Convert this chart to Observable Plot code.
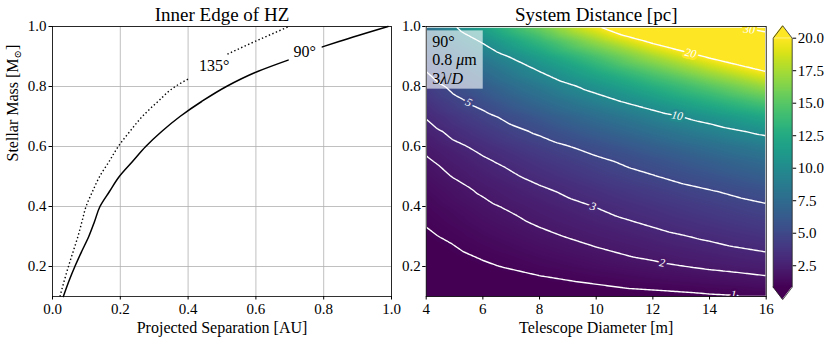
<!DOCTYPE html>
<html><head><meta charset="utf-8">
<script src="https://cdn.jsdelivr.net/npm/d3@7"></script>
<script src="https://cdn.jsdelivr.net/npm/@observablehq/plot@0.6"></script>
<style>
body{margin:0;background:#fff;}
#wrap{position:relative;width:830px;height:343px;overflow:hidden;font-family:"Liberation Serif","DejaVu Serif",serif;}
#wrap svg{position:absolute;top:0;overflow:visible;background:transparent;}
#wrap svg text{font-family:"Liberation Serif","DejaVu Serif",serif;}
</style></head><body><div id="wrap"></div>
<script>
// ---------- data: left panel (Inner Edge of HZ) ----------
const mass90Low  = [0.10,0.15,0.20,0.25,0.30,0.35,0.40,0.45,0.50,0.55,0.60,0.65,0.70,0.75,0.80,0.85,0.888];
const sep90Low   = [0.032,0.048,0.066,0.086,0.107,0.124,0.140,0.168,0.197,0.236,0.275,0.322,0.376,0.440,0.513,0.605,0.695];
const mass90High = [0.932,0.95,1.00];
const sep90High  = [0.796,0.845,0.99];
const mass135Low  = [0.10,0.15,0.20,0.25,0.30,0.35,0.40,0.45,0.50,0.55,0.60,0.65,0.70,0.75,0.80,0.828];
const sep135Low   = [0.022,0.034,0.047,0.061,0.075,0.087,0.099,0.118,0.139,0.167,0.194,0.228,0.265,0.311,0.362,0.405];
const mass135High = [0.908,0.95,1.00];
const sep135High  = [0.516,0.597,0.698];
const curveLabels = ["90°","135°"];
const curveLabelSep = [0.744,0.477];
const curveLabelMass = [0.917,0.869];
const sepTicks = [0,0.2,0.4,0.6,0.8,1.0];
const massTicks = [0.2,0.4,0.6,0.8,1.0];

// ---------- data: right panel (System Distance [pc]) ----------
const diameters = [4,6,8,10,12,14,16];
const masses = [0.10,0.15,0.20,0.25,0.30,0.35,0.40,0.45,0.50,0.55,0.60,0.65,0.70,0.75,0.80,0.85,0.90,0.95,1.00];
const distD4  = [0.26,0.43,0.61,0.76,0.90,1.06,1.21,1.40,1.64,1.88,2.20,2.62,3.08,3.68,4.28,5.00,5.80,6.80,7.92];
const distD6  = [0.38,0.65,0.91,1.13,1.36,1.59,1.82,2.10,2.46,2.82,3.30,3.93,4.62,5.52,6.42,7.50,8.70,10.2,11.88];
const distD8  = [0.51,0.86,1.22,1.51,1.81,2.12,2.42,2.80,3.28,3.76,4.40,5.24,6.16,7.36,8.56,10.0,11.6,13.6,15.84];
const distD10 = [0.64,1.08,1.52,1.89,2.26,2.65,3.03,3.50,4.10,4.70,5.50,6.55,7.70,9.20,10.7,12.5,14.5,17.0,19.8];
const distD12 = [0.77,1.30,1.82,2.27,2.71,3.18,3.64,4.20,4.92,5.64,6.60,7.86,9.24,11.04,12.84,15.0,17.4,20.4,23.76];
const distD14 = [0.90,1.51,2.13,2.65,3.16,3.71,4.24,4.90,5.74,6.58,7.70,9.17,10.78,12.88,14.98,17.5,20.3,23.8,27.72];
const distD16 = [1.02,1.73,2.43,3.02,3.62,4.24,4.85,5.60,6.56,7.52,8.80,10.48,12.32,14.72,17.12,20.0,23.2,27.2,31.68];
const contourLevels = [1,2,3,5,10,20,30];
const labelLevel = [1,2,3,5,10,20,30];
const labelDiam  = [14.85,12.33,9.89,5.50,12.86,13.33,15.40];
const labelMass  = [0.107,0.212,0.400,0.747,0.703,0.911,0.990];
const labelAngle = [3,9,16,26,10,12,6];
const diamTicks = [4,6,8,10,12,14,16];
const infoLines = ["90°","0.8 μm","3λ/D"];
const colorMin = 0.85, colorMax = 20;
const colorTicks = [2.5,5,7.5,10,12.5,15,17.5,20];

// ---------- build ----------
const FONT = '"Liberation Serif","DejaVu Serif",serif';
const wrap = document.getElementById("wrap");
const fmt1 = d3.format(".1f");
const tbl = (ms, ss) => ms.map((m,i) => ({m, s: ss[i]}));
const axisText = {fontSize: 15, fontFamily: FONT};

const left = Plot.plot({
  width: 400, height: 343,
  marginLeft: 52, marginRight: 9, marginTop: 26, marginBottom: 47,
  style: {fontFamily: FONT, fontSize: "15px", background: "transparent", color: "black"},
  x: {domain: [0,1]},
  y: {domain: [0.1,1]},
  marks: [
    Plot.gridX(sepTicks, {stroke: "#b0b0b0", strokeOpacity: 1, strokeWidth: 0.8}),
    Plot.gridY(massTicks, {stroke: "#b0b0b0", strokeOpacity: 1, strokeWidth: 0.8}),
    Plot.line(tbl(mass90Low, sep90Low), {x: "s", y: "m", stroke: "black", strokeWidth: 1.5, curve: "monotone-y"}),
    Plot.line(tbl(mass90High, sep90High), {x: "s", y: "m", stroke: "black", strokeWidth: 1.5, curve: "monotone-y"}),
    Plot.line(tbl(mass135Low, sep135Low), {x: "s", y: "m", stroke: "black", strokeWidth: 1.4, strokeDasharray: "1.4,2.4", strokeLinecap: "butt", curve: "monotone-y"}),
    Plot.line(tbl(mass135High, sep135High), {x: "s", y: "m", stroke: "black", strokeWidth: 1.4, strokeDasharray: "1.4,2.4", strokeLinecap: "butt", curve: "monotone-y"}),
    Plot.text(curveLabels, {x: (d,i) => curveLabelSep[i], y: (d,i) => curveLabelMass[i], text: d => d, fontSize: 16, fill: "black", fontFamily: FONT}),
    Plot.frame({stroke: "black", strokeWidth: 0.8}),
    Plot.axisX({ticks: sepTicks, tickFormat: fmt1, tickSize: 3.5, tickPadding: 3, label: null, ...axisText}),
    Plot.axisY({ticks: massTicks, tickFormat: fmt1, tickSize: 3.5, tickPadding: 2.5, label: null, ...axisText}),
    Plot.text(["Inner Edge of HZ"], {frameAnchor: "top", dy: -6, lineAnchor: "bottom", fontSize: 19, fontFamily: FONT}),
    Plot.text(["Projected Separation [AU]"], {frameAnchor: "bottom", dy: 36, lineAnchor: "bottom", fontSize: 16, fontFamily: FONT}),
    Plot.text(["Stellar Mass [M⊙]"], {frameAnchor: "left", dx: -35, rotate: -90, lineAnchor: "bottom", fontSize: 16, fontFamily: FONT})
  ]
});
left.style.left = "0px";
wrap.appendChild(left);

const grid = diameters.flatMap((D, j) => {
  const row = [distD4, distD6, distD8, distD10, distD12, distD14, distD16][j];
  return masses.map((M, i) => ({D, M, d: row[i]}));
});
const colorOpts = {type: "linear", scheme: "viridis", domain: [colorMin, colorMax], clamp: true};
const labels = labelLevel.map((v,i) => ({v, D: labelDiam[i], M: labelMass[i], a: labelAngle[i]}));

const right = Plot.plot({
  width: 380, height: 343,
  marginLeft: 35.7, marginRight: 4.3, marginTop: 26, marginBottom: 47,
  style: {fontFamily: FONT, fontSize: "15px", background: "transparent", color: "black"},
  x: {domain: [4,16]},
  y: {domain: [0.1,1]},
  color: colorOpts,
  marks: [
    Plot.raster(grid, {x: "D", y: "M", fill: "d", interpolate: "barycentric"}),
    Plot.contour(grid, {x: "D", y: "M", value: "d", thresholds: contourLevels, interpolate: "barycentric", stroke: "white", fill: "none", strokeWidth: 1.4, clip: true}),
    Plot.text(labels, {x: "D", y: "M", text: d => String(d.v), rotate: "a", fill: "white", stroke: "v", strokeWidth: 5, paintOrder: "stroke", fontStyle: "italic", fontSize: 11.5, fontFamily: FONT, clip: true}),
    Plot.text([infoLines.join("\n")], {frameAnchor: "top-left", dx: 6, dy: 7.3, lineAnchor: "top", lineHeight: 1.15, textAnchor: "start", fontSize: 16, fill: "black", fontFamily: FONT}),
    Plot.frame({stroke: "black", strokeWidth: 0.8}),
    Plot.axisX({ticks: diamTicks, tickSize: 3.5, tickPadding: 3, label: null, ...axisText}),
    Plot.axisY({ticks: massTicks, tickFormat: fmt1, tickSize: 3.5, tickPadding: 2, label: null, ...axisText}),
    Plot.text(["System Distance [pc]"], {frameAnchor: "top", dy: -6, lineAnchor: "bottom", fontSize: 19, fontFamily: FONT}),
    Plot.text(["Telescope Diameter [m]"], {frameAnchor: "bottom", dy: 36, lineAnchor: "bottom", fontSize: 16, fontFamily: FONT})
  ]
});
right.style.left = "390px";
wrap.appendChild(right);

// colorbar
const ext = 0.05 * (colorMax - colorMin);
const topTri = [{x:0,y1:colorMax,y2:colorMax},{x:0.5,y1:colorMax,y2:colorMax+ext},{x:1,y1:colorMax,y2:colorMax}];
const botTri = [{x:0,y1:colorMin,y2:colorMin},{x:0.5,y1:colorMin,y2:colorMin-ext},{x:1,y1:colorMin,y2:colorMin}];
const outline = [[0,colorMin],[0,colorMax],[0.5,colorMax+ext],[1,colorMax],[1,colorMin],[0.5,colorMin-ext],[0,colorMin]];
const cb = Plot.plot({
  width: 65, height: 343,
  marginLeft: 7.7, marginRight: 38.3, marginTop: 37.7, marginBottom: 56.3,
  style: {fontFamily: FONT, fontSize: "15px", background: "transparent", color: "black"},
  x: {domain: [0,1], axis: null},
  y: {domain: [colorMin, colorMax]},
  color: colorOpts,
  marks: [
    Plot.raster({fill: (x, y) => y, x1: 0, x2: 1, y1: colorMin, y2: colorMax}),
    Plot.areaY(topTri, {x: "x", y1: "y1", y2: "y2", fill: d3.interpolateViridis(1), curve: "linear"}),
    Plot.areaY(botTri, {x: "x", y1: "y1", y2: "y2", fill: d3.interpolateViridis(0), curve: "linear"}),
    Plot.line(outline, {x: d => d[0], y: d => d[1], stroke: "#222", strokeWidth: 0.8, curve: "linear"}),
    Plot.axisY({anchor: "right", ticks: colorTicks, tickFormat: fmt1, tickSize: 3.5, tickPadding: 2, label: null, ...axisText})
  ]
});
cb.style.left = "765px";
wrap.appendChild(cb);

// rich text tweaks
const SVGNS = "http://www.w3.org/2000/svg";
const yl = [...left.querySelectorAll("text")].find(t => t.textContent.startsWith("Stellar"));
if (yl) {
  yl.textContent = "Stellar Mass [M";
  const sub = document.createElementNS(SVGNS, "tspan");
  sub.setAttribute("font-size", "10"); sub.setAttribute("dy", "3"); sub.textContent = "⊙";
  const close = document.createElementNS(SVGNS, "tspan");
  close.setAttribute("dy", "-3"); close.textContent = "]";
  yl.appendChild(sub); yl.appendChild(close);
}
const ib = [...right.querySelectorAll("text")].find(t => t.textContent.includes("μ"));
if (ib) {
  const ts = ib.querySelectorAll("tspan");
  const ital = (s) => { const e = document.createElementNS(SVGNS, "tspan"); e.setAttribute("font-style", "italic"); e.textContent = s; return e; };
  if (ts.length === 3) {
    ts[1].textContent = "0.8 "; ts[1].appendChild(ital("μ")); ts[1].appendChild(document.createTextNode("m"));
    ts[2].textContent = "3"; ts[2].appendChild(ital("λ")); ts[2].appendChild(document.createTextNode("/")); ts[2].appendChild(ital("D"));
  }
  const bb = ib.getBBox();
  const r = document.createElementNS(SVGNS, "rect");
  r.setAttribute("x", bb.x - 5.5);
  r.setAttribute("y", bb.y - 2.5);
  r.setAttribute("width", bb.width + 11);
  r.setAttribute("height", bb.height + 4.5);
  r.setAttribute("fill", "white");
  r.setAttribute("fill-opacity", "0.62");
  const tr = ib.getAttribute("transform");
  if (tr) r.setAttribute("transform", tr);
  ib.parentNode.insertBefore(r, ib);
}
</script></body></html>
